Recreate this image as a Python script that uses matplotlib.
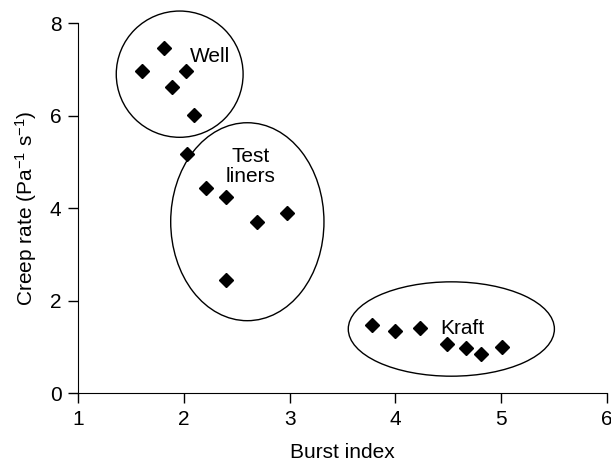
import matplotlib
matplotlib.use("Agg")
import matplotlib.pyplot as plt
from matplotlib.patches import Ellipse

plt.rcParams['font.family'] = ['Liberation Sans', 'DejaVu Sans']
plt.rcParams['mathtext.fontset'] = 'custom'
plt.rcParams['mathtext.rm'] = 'Liberation Sans'
plt.rcParams['mathtext.default'] = 'regular'

# Burst index / creep rate
burst_index = [1.60, 1.81, 1.89, 2.02, 2.10,
               2.03, 2.21, 2.40, 2.69, 2.98, 2.40,
               3.78, 4.00, 4.23, 4.49, 4.67, 4.81, 5.01]
creep_rate = [6.97, 7.46, 6.63, 6.97, 6.02,
              5.17, 4.43, 4.24, 3.70, 3.89, 2.45,
              1.47, 1.35, 1.42, 1.06, 0.99, 0.84, 1.01]

# groups: label, label position, ellipse centre, width, height
groups = [
    ("Well", (2.25, 7.28), (1.96, 6.90), 1.20, 2.73),
    ("Test\nliners", (2.63, 4.90), (2.60, 3.71), 1.45, 4.28),
    ("Kraft", (4.63, 1.41), (4.53, 1.39), 1.95, 2.04),
]

fig = plt.figure(figsize=(6.11, 4.66), dpi=100)
ax = fig.add_axes([0.128, 0.156, 0.865, 0.794])

ax.plot(burst_index, creep_rate, linestyle='none', marker='D',
        markersize=7, color='black', zorder=3)

for name, txt_pos, centre, w, h in groups:
    e = Ellipse(centre, w, h, fill=False, edgecolor='black', linewidth=1.0,
                clip_on=False)
    ax.add_patch(e)
    ax.text(txt_pos[0], txt_pos[1], name, ha='center', va='center',
            fontsize=15, linespacing=1.05)

ax.set_xlim(1, 6)
ax.set_ylim(0, 8)
ax.set_xticks([1, 2, 3, 4, 5, 6])
ax.set_yticks([0, 2, 4, 6, 8])
ax.spines['top'].set_visible(False)
ax.spines['right'].set_visible(False)
ax.tick_params(direction='out', length=7, width=1, labelsize=15, pad=5)

ax.set_xlabel("Burst index", fontsize=15, labelpad=10)
ax.set_ylabel(r"Creep rate (Pa$^{-1}$ s$^{-1}$)", fontsize=15, labelpad=8)

fig.savefig("out.png", dpi=100)
